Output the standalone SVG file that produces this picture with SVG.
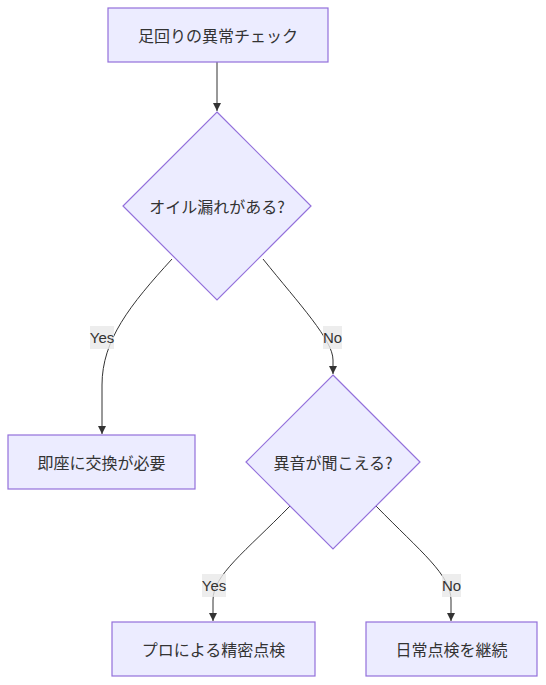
<svg xmlns="http://www.w3.org/2000/svg" width="546" height="685" viewBox="0 0 546 685">
<style>
.node rect, .node polygon { fill: #ECECFF; stroke: #9370DB; stroke-width: 1.2; }
.node text { font-family: "Noto Sans CJK JP", "Noto Sans", sans-serif; font-size: 16px; fill: #333; text-anchor: middle; dominant-baseline: central; }
.edge { fill: none; stroke: #333; stroke-width: 1; marker-end: url(#arr); }
.lbl rect { fill: #e8e8e8; opacity: 0.8; }
.lbl text { font-family: "Liberation Sans", Arial, sans-serif; font-size: 15px; fill: #333; text-anchor: middle; dominant-baseline: central; }
</style>
<defs>
<marker id="arr" viewBox="0 0 10 10" refX="10" refY="5" markerWidth="8" markerHeight="8" markerUnits="userSpaceOnUse" orient="auto">
<path d="M0,0 L10,5 L0,10 z" fill="#333"/>
</marker>
</defs>
<g id="connectors">
<path class="edge" d="M217,62 L217,111"/>
<path class="edge" d="M172,259 C130,305 102,340 102,385 L102,434"/>
<path class="edge" d="M263,259 C300,305 333,340 333,360 L333,374"/>
<path class="edge" d="M290,506 C245,552 213,575 213,600 L213,621"/>
<path class="edge" d="M376,506 C421,552 451,575 451,600 L451,621"/>
</g>
<g id="labels">
<g class="lbl"><rect x="90" y="326" width="24" height="23"/><text x="102" y="337.5">Yes</text></g>
<g class="lbl"><rect x="323" y="326" width="19" height="23"/><text x="332.5" y="337.5">No</text></g>
<g class="lbl"><rect x="202" y="574" width="24" height="23"/><text x="214" y="585.5">Yes</text></g>
<g class="lbl"><rect x="442" y="574" width="19" height="23"/><text x="451.5" y="585.5">No</text></g>
</g>
<g id="start" class="node"><rect x="108" y="8" width="220" height="54"/><text x="218" y="35">足回りの異常チェック</text></g>
<g id="oil" class="node"><polygon points="217,112 311,206 217,300 123,206"/><text x="217" y="206">オイル漏れがある?</text></g>
<g id="replace" class="node"><rect x="8" y="435" width="187" height="54"/><text x="101.5" y="462">即座に交換が必要</text></g>
<g id="noise" class="node"><polygon points="333,375 420,462 333,549 246,462"/><text x="333" y="462">異音が聞こえる?</text></g>
<g id="pro" class="node"><rect x="112" y="622" width="203" height="54"/><text x="213.5" y="649">プロによる精密点検</text></g>
<g id="daily" class="node"><rect x="366" y="622" width="171" height="54"/><text x="451.5" y="649">日常点検を継続</text></g>
</svg>
